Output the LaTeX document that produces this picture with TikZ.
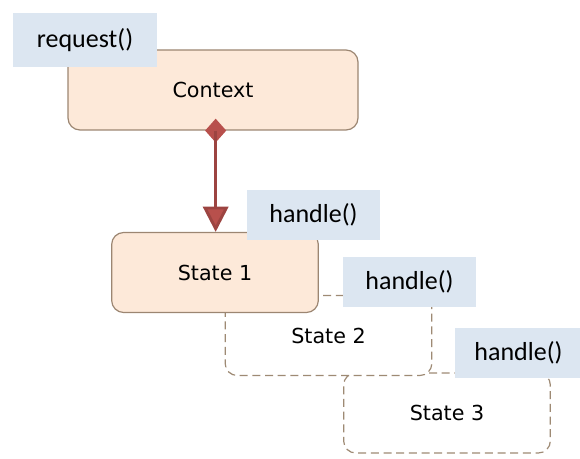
\documentclass[tikz,border=0pt]{standalone}
\usepackage{fontspec}
\setmainfont{DejaVu Sans}
\newfontfamily\lblfont{Carlito}
\usetikzlibrary{arrows.meta,shapes.geometric}
\definecolor{peach}{HTML}{FDE9D9}
\definecolor{boxline}{HTML}{9C8672}
\definecolor{dashline}{HTML}{9E8A74}
\definecolor{lblblue}{HTML}{DCE6F1}
\definecolor{linkred}{HTML}{B8504C}
\begin{document}
\begin{tikzpicture}[x=0.75pt,y=-0.75pt]
\tikzstyle{statebox} = [rectangle, rounded corners=9pt, minimum width=155pt, minimum height=60pt, inner sep=0pt, font=\fontsize{15.5}{18}\selectfont] % box of a state
\tikzstyle{solidbox} = [statebox, draw=boxline, line width=0.9pt, fill=peach] % filled box
\tikzstyle{dashbox} = [statebox, draw=dashline, line width=0.9pt, fill=white, dash pattern=on 6pt off 3.5pt] % dashed box
\tikzstyle{opname} = [rectangle, fill=lblblue, minimum width=100pt, minimum height=38pt, inner sep=0pt, font=\lblfont\fontsize{19.5}{22}\selectfont] % method label
\useasboundingbox (0,0) rectangle (580,459);
\node[dashbox] (st3) at (447,413) {State 3};
\node[dashbox] (st2) at (328.5,335.5) {State 2};
\node[solidbox] (st1) at (215,272.5) {State 1};
\node[solidbox, minimum width=217.5pt] (ctx) at (213,90) {Context};
\node[opname, minimum width=108pt, minimum height=40.5pt] (req) at (85,40) {request()};
\node[opname] (h1) at (313.5,215) {handle()};
\node[opname] (h2) at (409.5,282) {handle()};
\node[opname, minimum width=95pt] (h3) at (518.5,353) {handle()};
\node[diamond, fill=linkred, inner sep=0pt, minimum width=16pt, minimum height=18pt] (dia) at ([xshift=2pt]ctx.south) {}; % aggregation mark
\draw[linkred!85!black, line width=2.2pt, -{Triangle[width=19pt,length=19pt,fill=linkred]}] (dia.center) -- (dia.center |- st1.north);
\end{tikzpicture}
\end{document}
